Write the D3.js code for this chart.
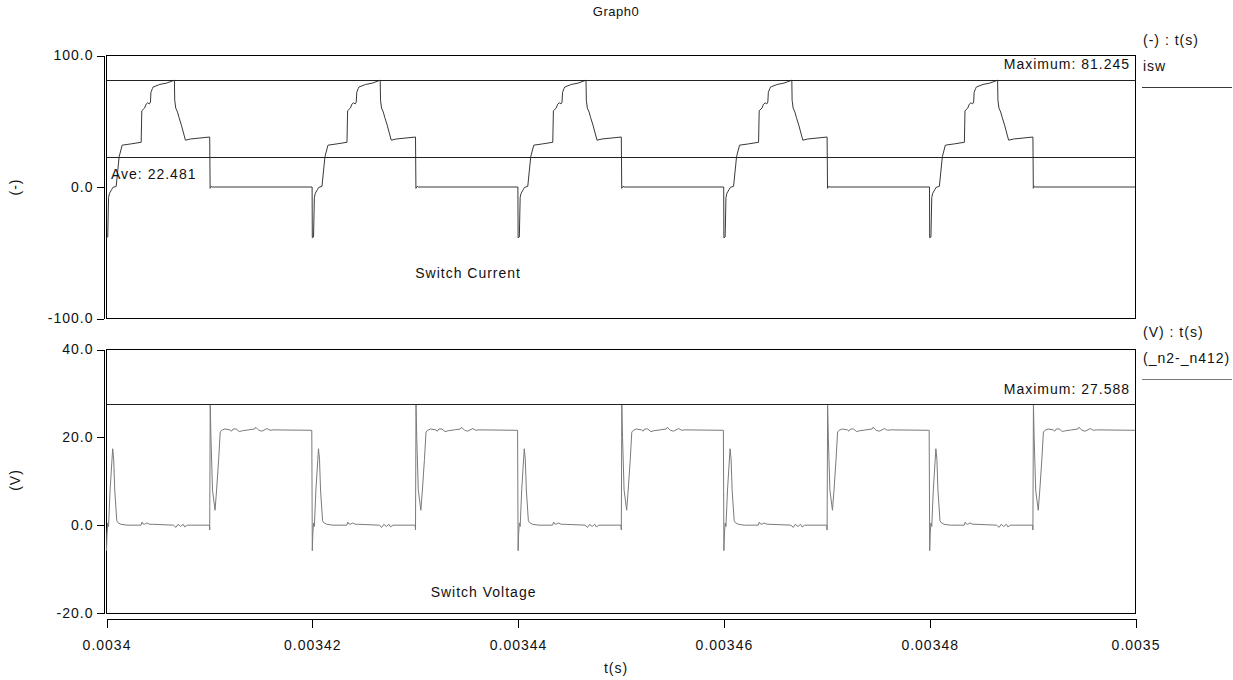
<!DOCTYPE html>
<html>
<head>
<meta charset="utf-8">
<script src="https://cdn.jsdelivr.net/npm/d3@7"></script>
<style>
  body { margin: 0; background: #fff; }
  svg { display: block; font-family: "Liberation Sans", Arial, sans-serif; }
  text { font-size: 14px; letter-spacing: 1px; fill: #111; }
  .axis path, .axis line { stroke: #000; shape-rendering: crispEdges; }
  .axis text { font-size: 14px; letter-spacing: 1px; fill: #111; font-family: "Liberation Sans", Arial, sans-serif; }
</style>
</head>
<body>
<svg id="chart" width="1233" height="680"></svg>
<script>
// switching period starts (s)
const periodStarts = [0.0034, 0.00342, 0.00344, 0.00346, 0.00348]

// switch current over one period: [offset in µs, value]
const iswShape = [
    [0.00, -38.6], [0.12, -38.0], [0.20, -8.0], [0.29, -4.8], [0.50, -2.0], [0.62, -0.3],
    [0.94, 0.5], [1.10, 13.0], [1.23, 23.0], [1.52, 31.8], [2.40, 32.8], [3.37, 34.0],
    [3.43, 58.0], [3.70, 60.0], [3.85, 63.0], [4.00, 64.0], [4.17, 63.2], [4.27, 64.6],
    [4.32, 72.0], [4.47, 75.0], [4.53, 76.0], [5.18, 78.0], [5.83, 79.0], [6.60, 81.2],
    [6.63, 66.0], [6.73, 60.0], [6.90, 57.0], [7.04, 53.0], [7.28, 47.0], [7.67, 35.6],
    [8.15, 36.5], [10.03, 38.0], [10.07, -1.0], [10.20, 0.5], [10.30, 0.0], [19.98, 0.0]
]

// switch voltage over one period: [offset in µs, value]
const vswShape = [
    [0.00, -5.8], [0.05, -2.0], [0.12, 0.5], [0.20, -0.3], [0.35, 8.0], [0.60, 17.4],
    [0.70, 15.0], [0.80, 8.0], [1.00, 1.0], [1.10, 0.6], [1.40, 0.2], [2.00, 0.0],
    [3.35, 0.0], [3.45, 0.7], [3.55, 0.3], [3.70, 0.2], [3.90, 0.5], [4.20, 0.2],
    [4.50, 0.2], [6.50, 0.0], [6.75, -0.5], [6.95, 0.2], [7.20, -0.3], [7.45, 0.2],
    [7.60, -0.4], [7.85, 0.0], [10.00, 0.0], [10.03, -1.1], [10.08, 27.4], [10.15, 20.0],
    [10.30, 8.0], [10.55, 3.4], [10.70, 8.0], [10.90, 15.0], [11.05, 21.2], [11.20, 21.6],
    [11.50, 21.9], [12.00, 21.7], [12.15, 21.4], [12.30, 21.9], [12.60, 21.9], [12.90, 21.3],
    [13.20, 21.5], [13.80, 21.7], [14.40, 21.9], [14.50, 22.3], [14.80, 21.6], [15.10, 21.4],
    [15.60, 22.0], [15.90, 21.6], [16.20, 21.7], [19.95, 21.6]
]
// turn-off spike peak per period
const vSpikePeak = [27.3, 27.4, 27.4, 27.3, 27.588]

const iswMax = 81.245
const iswAve = 22.481
const vMax = 27.588

const xTicks = [0.0034, 0.00342, 0.00344, 0.00346, 0.00348, 0.0035]
const iTicks = [100, 0, -100]
const vTicks = [40, 20, 0, -20]

const svg = d3.select('#chart')

const x = d3.scaleLinear().domain([0.0034, 0.0035]).range([106.5, 1135.5])
const yI = d3.scaleLinear().domain([-100, 100]).range([318.5, 55.5])
const yV = d3.scaleLinear().domain([-20, 40]).range([613, 349.5])

const buildSeries = (shape, peaks) => periodStarts.flatMap((p, k) =>
    shape.map(([off, v]) => [p + off * 1e-6, (peaks && v > 27) ? peaks[k] : v])
)
const iswData = buildSeries(iswShape)
const vswData = buildSeries(vswShape, vSpikePeak)

// title
svg.append('text')
    .attr('x', 616).attr('y', 16)
    .attr('text-anchor', 'middle')
    .style('font-size', '13px').style('letter-spacing', '0.5px')
    .text('Graph0')

const drawPanel = (y, ticks, data, color, cfg) => {
    const g = svg.append('g')
    const [y0, y1] = y.range()

    g.append('g')
        .attr('class', 'axis')
        .attr('transform', 'translate(103.5,0)')
        .call(d3.axisLeft(y).tickValues(ticks).tickFormat(d => d.toFixed(1)).tickSize(7).tickSizeOuter(0))

    // plot frame
    g.append('rect')
        .attr('x', x.range()[0]).attr('y', y1)
        .attr('width', x.range()[1] - x.range()[0]).attr('height', y0 - y1)
        .attr('fill', 'none').attr('stroke', '#000')
        .attr('shape-rendering', 'crispEdges')

    // waveform
    g.append('path')
        .datum(data)
        .attr('d', d3.line().x(d => x(d[0])).y(d => y(d[1])))
        .attr('fill', 'none')
        .attr('stroke', color)
        .attr('stroke-width', 1)

    // marker lines (maximum / average)
    cfg.markers.forEach(m => {
        g.append('line')
            .attr('x1', x.range()[0]).attr('x2', x.range()[1])
            .attr('y1', y(m.value)).attr('y2', y(m.value))
            .attr('stroke', '#222').attr('shape-rendering', 'crispEdges')
        g.append('text')
            .attr('x', m.anchor === 'end' ? 1130 : 111)
            .attr('y', y(m.value) + m.dy)
            .attr('text-anchor', m.anchor)
            .text(m.label)
    })

    // caption inside plot
    g.append('text')
        .attr('x', x(cfg.caption.t)).attr('y', y(cfg.caption.v))
        .text(cfg.caption.text)

    // unit label on the left
    g.append('text')
        .attr('transform', `translate(20,${cfg.unitY}) rotate(-90)`)
        .attr('text-anchor', 'middle')
        .text(cfg.unit)

    // legend block on the right
    g.append('text').attr('x', 1143).attr('y', cfg.legendY).text(cfg.legendHead)
    g.append('text').attr('x', 1143).attr('y', cfg.legendY + 26).text(cfg.legendName)
    g.append('line')
        .attr('x1', 1142).attr('x2', 1232)
        .attr('y1', cfg.legendY + 42.5).attr('y2', cfg.legendY + 42.5)
        .attr('stroke', color).attr('shape-rendering', 'crispEdges')
}

drawPanel(yI, iTicks, iswData, '#383838', {
    markers: [
        { value: iswMax, label: `Maximum: ${iswMax}`, anchor: 'end', dy: -11 },
        { value: iswAve, label: `Ave: ${iswAve}`, anchor: 'start', dy: 22 }
    ],
    caption: { t: 0.00343, v: -69, text: 'Switch Current' },
    unit: '(-)', unitY: 187,
    legendY: 45, legendHead: '(-) : t(s)', legendName: 'isw'
})

drawPanel(yV, vTicks, vswData, '#7a7a7a', {
    markers: [
        { value: vMax, label: `Maximum: ${vMax}`, anchor: 'end', dy: -10 }
    ],
    caption: { t: 0.0034315, v: -16.4, text: 'Switch Voltage' },
    unit: '(V)', unitY: 480,
    legendY: 337, legendHead: '(V) : t(s)', legendName: '(_n2-_n412)'
})

// shared time axis
svg.append('g')
    .attr('class', 'axis')
    .attr('transform', 'translate(0,618.5)')
    .call(d3.axisBottom(x).tickValues(xTicks).tickFormat(d => String(+d.toFixed(5))).tickSize(9).tickSizeOuter(0))
    .call(g => g.selectAll('text').attr('dy', '1.4em'))

svg.append('text')
    .attr('x', 616).attr('y', 673)
    .attr('text-anchor', 'middle')
    .text('t(s)')
</script>
</body>
</html>
